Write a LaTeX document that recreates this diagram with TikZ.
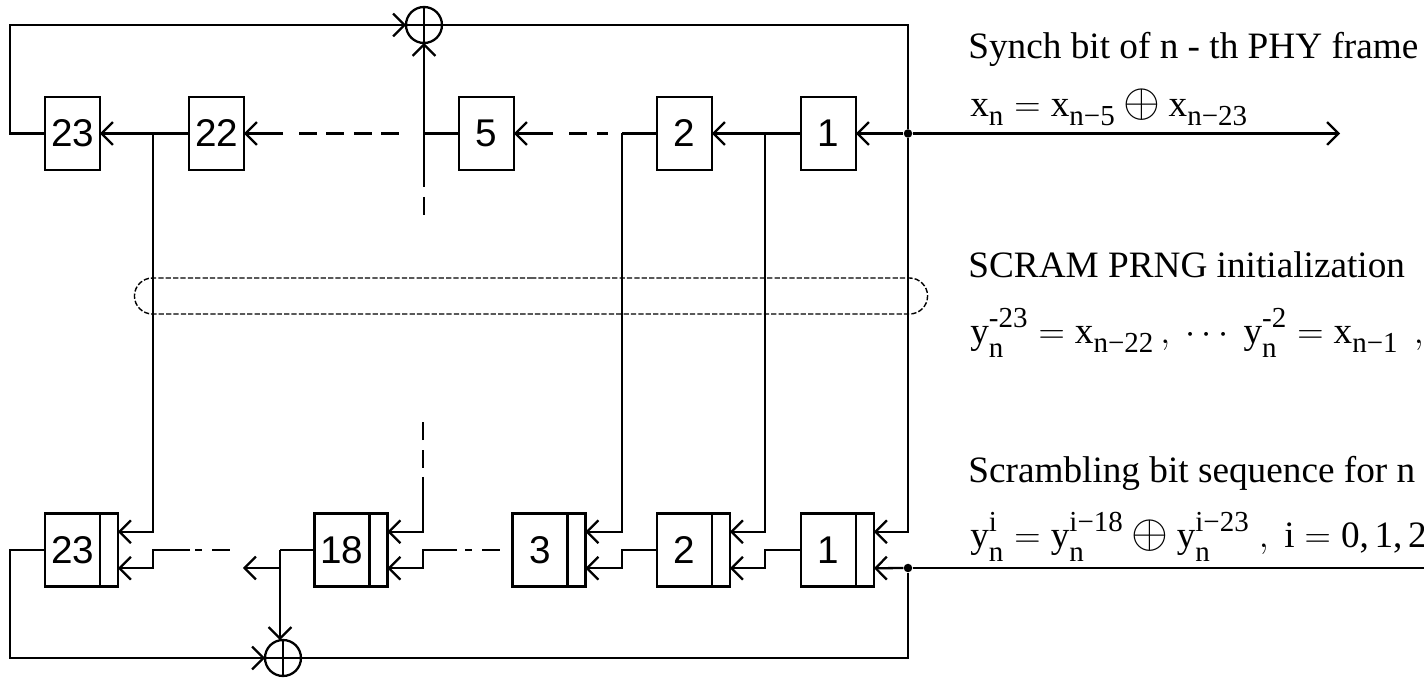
\documentclass[tikz,border=0pt]{standalone}
\usepackage{amsmath,amssymb}
\usepackage{fontspec}
\setmainfont{Liberation Serif}
\newfontfamily\regfont{Liberation Sans}
\usetikzlibrary{positioning,calc,arrows.meta,shapes.misc}
\DeclareMathSizes{21.2}{21.2}{16.5}{13}
\newcommand{\sbt}[1]{\text{\raisebox{-2pt}{#1}}}
\newcommand{\spt}[1]{\text{\raisebox{2pt}{#1}}}
\newcommand{\bigxor}{\mathbin{\scalebox{1.3}{$\oplus$}}}
\tikzset{
  wire/.style={line width=1.3pt},
  dashwire/.style={line width=1.5pt},
  barb/.style={-{Straight Barb[length=6.4pt,width=13pt]}},
  reg/.style={draw,line width=1.3pt,outer sep=0pt,inner sep=0pt,minimum width=1.1cm,minimum height=1.46cm,font=\regfont\fontsize{22}{26}\selectfont},
  pinbox/.style={draw,line width=1.3pt,outer sep=0pt,inner sep=0pt,minimum width=0.36cm,minimum height=1.46cm},
  xorgate/.style={draw,circle,line width=1.3pt,outer sep=0pt,inner sep=0pt,minimum size=0.72cm},
  dotnode/.style={circle,fill=black,inner sep=0pt,minimum size=0.17cm},
  caption/.style={anchor=base west,inner sep=0pt,font=\fontsize{21.2}{25}\selectfont},
}
\begin{document}
\begin{tikzpicture}[x=0.02cm,y=-0.02cm]
\useasboundingbox (0,0) rectangle (1424,678);
\foreach \n/\x in {23/72.5,22/216.5,5/486.5,2/684.5,1/828.5}
  \node[reg] (t\n) at (\x,133.5) {\n};
\foreach \n/\x in {23/72.5,18/342,3/540,2/684.5,1/828.5}{
  \node[reg] (b\n) at (\x,550) {\n};
  \node[pinbox,right=0pt of b\n] (b\n i) {};
  \coordinate (b\n u) at ($(b\n i.north east)!.25!(b\n i.south east)$);
  \coordinate (b\n l) at ($(b\n i.north east)!.75!(b\n i.south east)$);
}
\node[xorgate] (xorT) at (424,25) {};
\node[xorgate] (xorB) at (283,658) {};
\node[dotnode] (jT) at (908,133.5) {};
\node[dotnode] (jB) at (908,568) {};
\coordinate (out) at (1340,133.5);
\coordinate (outB) at (1424,568);
\coordinate (s23) at (153,133.5);
\coordinate (s3) at (622,133.5);
\coordinate (s2) at (765,133.5);
\coordinate (vJ) at (424,133.5);
\coordinate (vE) at (424,187);
\coordinate (k18) at (280,550);
\coordinate (k18b) at (280,568);
\coordinate (k18x) at (280,640);
\coordinate (left18) at (243,568);
\draw[wire] (xorT.west) -- (xorT.east);
\draw[wire] (xorT.north) -- (xorT.south);
\draw[wire] (xorB.west) -- (xorB.east);
\draw[wire] (xorB.north) -- (xorB.south);
\draw[wire,barb] (t23.west) -- ++(-35,0) |- (xorT.west);
\draw[wire] (xorT.east) -| (jT);
\draw[wire,barb] (t22.west) -- (t23.east);
\draw[wire,barb] (283,133.5) -- (t22.east);
\draw[dashwire,dash pattern=on 10.2pt off 5.4pt] (299,133.5) -- (400,133.5);
\draw[wire] (t5.west) -- (vJ);
\draw[wire,barb] (553,133.5) -- (t5.east);
\draw[dashwire,dash pattern=on 10.2pt off 5.7pt] (569,133.5) -- (608,133.5);
\draw[wire] (t2.west) -- (s3);
\draw[wire,barb] (t1.west) -- (t2.east);
\draw[wire,barb] (jT) -- (t1.east);
\draw[wire,barb] (jT) -- (out);
\draw[wire,barb] (vE) -- (xorT.south);
\draw[dashwire] (vE) -- ++(0,-17);
\draw[dashwire] (424,197) -- (424,215);
\draw[wire,barb] (s23) |- (b23u);
\draw[wire,barb] (s3) |- (b3u);
\draw[wire,barb] (s2) |- (b2u);
\draw[wire,barb] (jT) |- (b1u);
\draw[wire,barb] (423,477) |- (b18u);
\draw[dashwire,dash pattern=on 10.2pt off 5.7pt] (423,468) -- (423,422);
\draw[wire,barb] (b1.west) -- ++(-36,0) |- (b2l);
\draw[wire,barb] (b2.west) -- ++(-35,0) |- (b3l);
\draw[wire,barb] (457,550) -- (423,550) |- (b18l);
\draw[dashwire,dash pattern=on 4pt off 5.7pt on 10.2pt off 5.7pt] (465,550) -- (500,550);
\draw[wire,barb] (190,550) -- (153,550) |- (b23l);
\draw[dashwire,dash pattern=on 4pt off 5.7pt on 10.2pt off 5.7pt] (195,550) -- (230,550);
\draw[wire] (b18.west) -- (k18);
\draw[wire,barb] (k18) -- (k18x);
\draw[wire,barb] (k18b) -- (left18);
\draw[wire,barb] (b23.west) -- ++(-35,0) |- (xorB.west);
\draw[wire] (jB) |- (xorB.east);
\draw[wire,barb] (jB) -- (b1l);
\draw[wire] (jB) -- (outB);
\node[draw,rounded rectangle,line width=0.8pt,dash pattern=on 3pt off 1.2pt,minimum width=16.1cm,minimum height=0.72cm] (init) at (531,296) {};
\node[caption] (capA) at (968,59) {Synch bit of n - th PHY frame};
\node[caption] (eqA) at (970,117) {$\text{x}_{\sbt{n}} = \text{x}_{\sbt{n−5}} \bigxor \text{x}_{\sbt{n−23}}$};
\node[caption] (capB) at (968,278) {SCRAM PRNG initialization};
\node[caption] (eqB) at (970,344) {$\text{y}_{\sbt{n}}^{\spt{-23}} = \text{x}_{\sbt{n−22}}\,,\ \cdots\ \text{y}_{\sbt{n}}^{\spt{-2}} = \text{x}_{\sbt{n−1}}\ \,,$};
\node[caption] (capC) at (968,483) {Scrambling bit sequence for n};
\node[caption] (eqC) at (970,548) {$\text{y}_{\sbt{n}}^{\spt{i}} = \text{y}_{\sbt{n}}^{\spt{i−18}} \bigxor \text{y}_{\sbt{n}}^{\spt{i−23}}\ ,\ \text{i} = \text{0,\hspace{.15em}1,\hspace{.15em}2}$};
\end{tikzpicture}
\end{document}
